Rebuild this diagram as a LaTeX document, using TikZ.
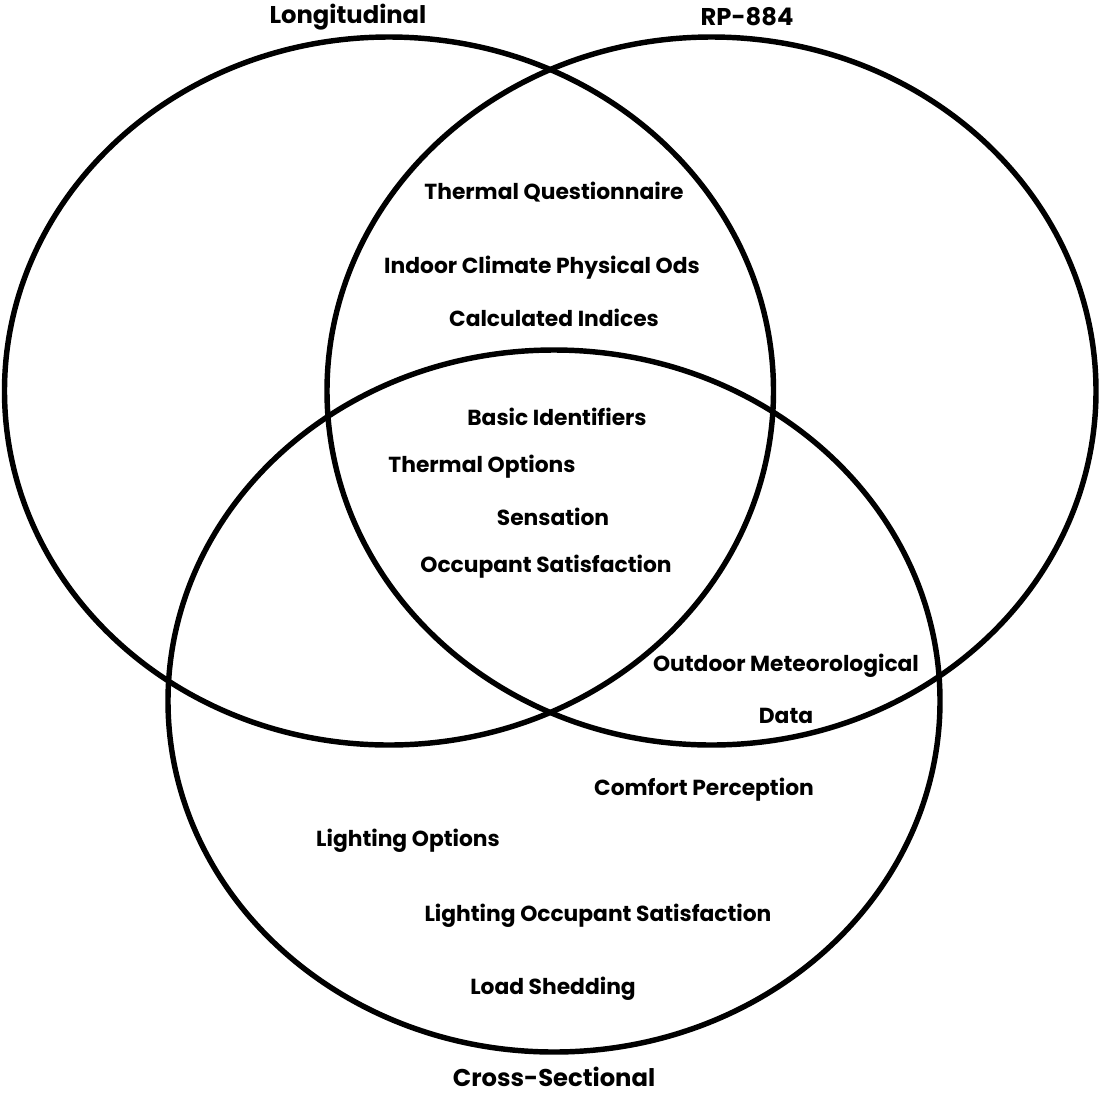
\documentclass[tikz,border=0pt]{standalone}
\usepackage{fontspec}
\setmainfont{Poppins}
\tikzset{
	setline/.style={line width=3.1pt},
	item/.style={font=\fontsize{12.4}{14}\selectfont\bfseries, inner sep=0pt},
	setname/.style={font=\fontsize{13.8}{16}\selectfont\bfseries, inner sep=0pt}
}
\begin{document}
\begin{tikzpicture}[x=0.02cm, y=-0.02cm]
	\useasboundingbox (0, 0) rectangle (1099, 1093);
	% the three sets
	\draw[setline] (389, 391) ellipse [x radius=384.5, y radius=354];
	\draw[setline] (711.5, 391) ellipse [x radius=384.5, y radius=354];
	\draw[setline] (554, 701) ellipse [x radius=386, y radius=351];
	% set names
	\node[setname] (long) at (348, 17) {Longitudinal};
	\node[setname] (rp) at (747, 17) {RP-884};
	\node[setname] (cross) at (554, 1077) {Cross-Sectional};
	% longitudinal and RP-884
	\node[item] (tq) at (554, 192) {Thermal Questionnaire};
	\node[item] (icp) at (542, 268) {Indoor Climate Physical Ods};
	\node[item] (ci) at (554, 318) {Calculated Indices};
	% all three
	\node[item] (bi) at (557, 417) {Basic Identifiers};
	\node[item] (to) at (482, 467) {Thermal Options};
	\node[item] (sens) at (553, 517) {Sensation};
	\node[item] (os) at (546, 567) {Occupant Satisfaction};
	% RP-884 and cross-sectional
	\node[item] (omd) at (786, 666) {Outdoor Meteorological};
	\node[item] (data) at (786, 716) {Data};
	% cross-sectional
	\node[item] (cp) at (704, 790) {Comfort Perception};
	\node[item] (lo) at (408, 841) {Lighting Options};
	\node[item] (los) at (598, 916) {Lighting Occupant Satisfaction};
	\node[item] (ls) at (553, 989) {Load Shedding};
\end{tikzpicture}
\end{document}
